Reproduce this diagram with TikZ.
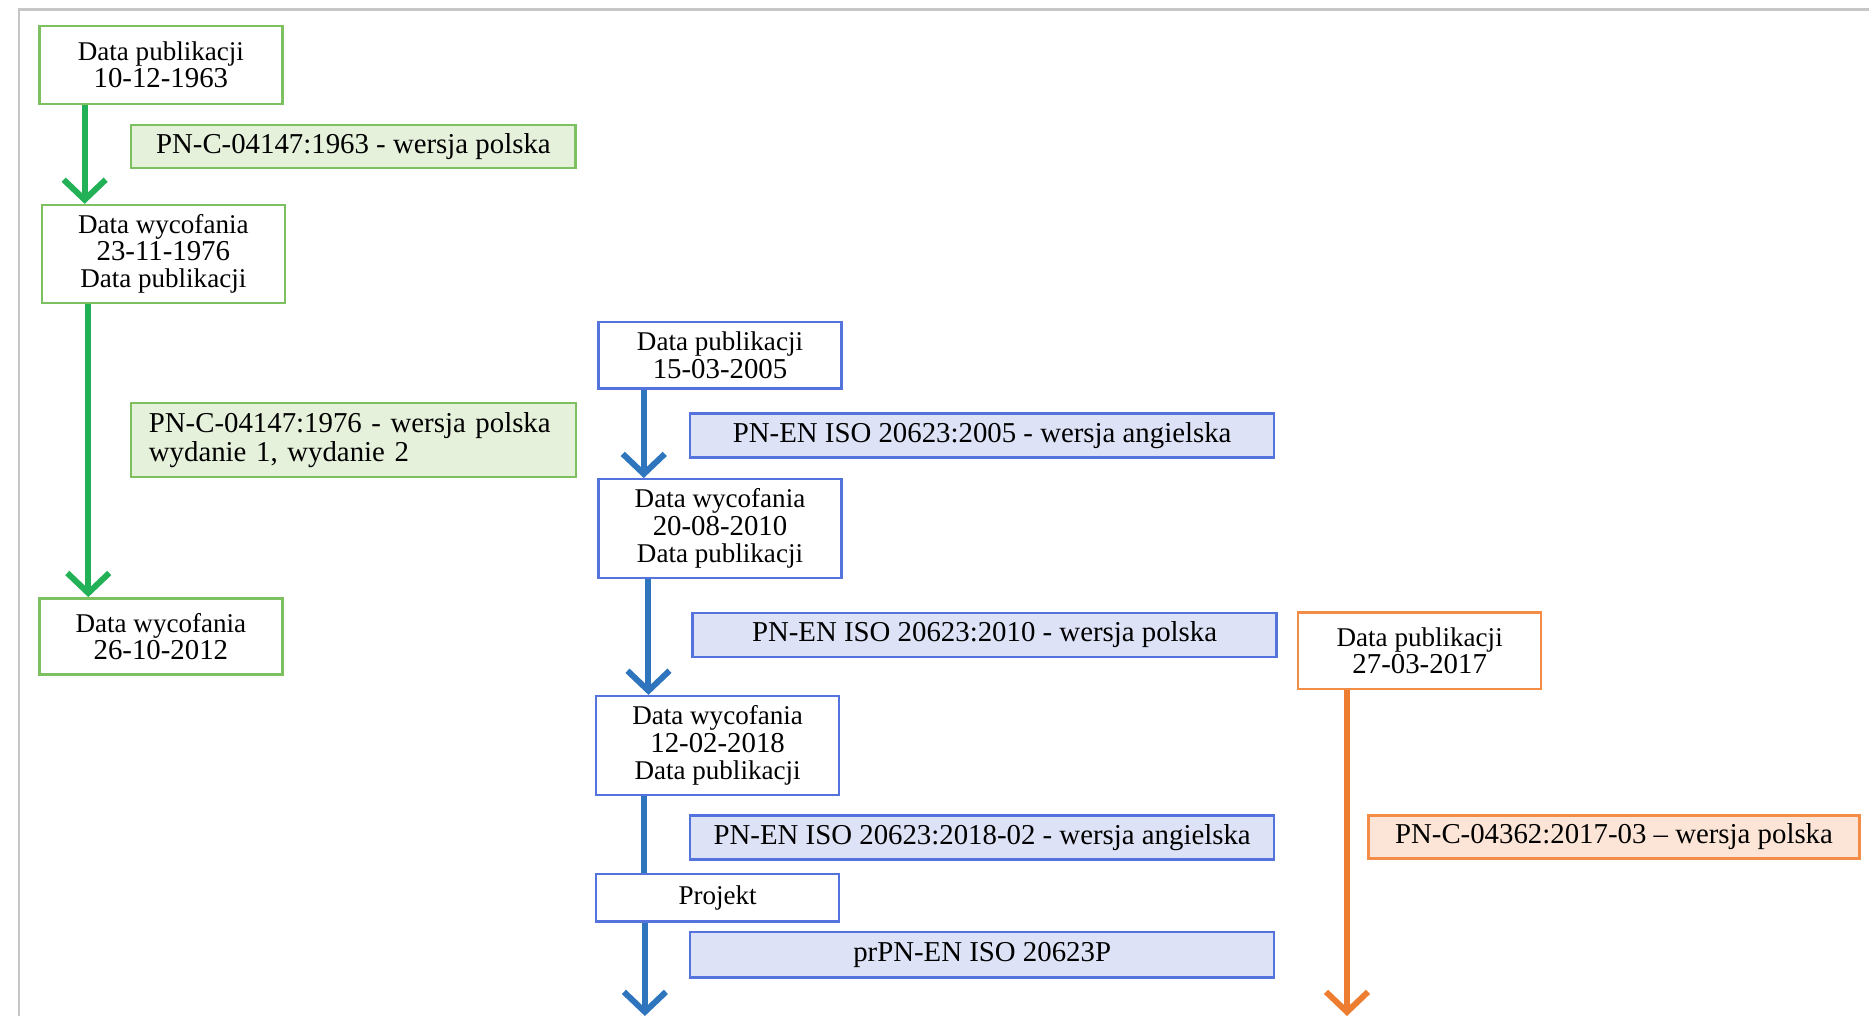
\documentclass[tikz,border=0pt]{standalone}
\usepackage{fontspec}
\setmainfont{Liberation Serif}
\usepackage{xcolor}
\usetikzlibrary{arrows.meta, calc}

\definecolor{grnline}{RGB}{125,192,95}
\definecolor{grnarrow}{RGB}{34,177,86}
\definecolor{grnfill}{RGB}{230,241,220}
\definecolor{bluline}{RGB}{85,115,220}
\definecolor{bluarrow}{RGB}{46,117,190}
\definecolor{blufill}{RGB}{221,226,246}
\definecolor{orgline}{RGB}{242,140,70}
\definecolor{orgarrow}{RGB}{237,125,49}
\definecolor{orgfill}{RGB}{252,229,214}

\newcommand{\hdrsize}{\fontsize{7.7}{7.8}\selectfont}
\newcommand{\datesize}{\fontsize{8.2}{7.8}\selectfont}
\newcommand{\labsize}{\fontsize{8.2}{8.2}\selectfont}

\begin{document}
\begin{tikzpicture}[
    datebox/.style={draw=#1, fill=white, line width=0.7pt, minimum width=2.43cm, align=center, inner sep=1pt, font=\datesize},
    labbox/.style 2 args={draw=#1, fill=#2, line width=0.7pt, minimum width=5.84cm, minimum height=0.44cm, inner sep=1pt, font=\labsize},
    tline/.style={draw=#1, line width=1.7pt},
    tarrow/.style={tline=#1, -{Straight Barb[length=0.2cm, width=0.42cm]}}
]
        \useasboundingbox (0,0) rectangle (18.69,-10.16);

        % Frame
        \draw[gray!45, line width=0.8pt] (18.69,-0.095) -- (0.19,-0.095) -- (0.19,-10.16);

        % Green line
        \node[datebox=grnline, minimum height=0.775cm] (g1) at (1.609,-0.650) {{\hdrsize Data publikacji}\\10-12-1963};
        \node[labbox={grnline}{grnfill}, minimum width=4.446cm, minimum height=0.43cm] (gl1) at (3.534,-1.466) {PN-C-04147:1963 - wersja polska};
        \node[datebox=grnline, minimum height=0.977cm] (g2) at (1.633,-2.539) {{\hdrsize Data wycofania}\\23-11-1976\\{\hdrsize Data publikacji}};
        \node[labbox={grnline}{grnfill}, minimum width=4.446cm, minimum height=0.739cm, text width=4.09cm, align=left, inner xsep=0.18cm] (gl2) at (3.534,-4.399) {PN-C-04147:1976 - wersja polska\\wydanie 1, wydanie 2};
        \node[datebox=grnline, minimum height=0.763cm] (g3) at (1.609,-6.365) {{\hdrsize Data wycofania}\\26-10-2012};

        \draw[tarrow=grnarrow] ($(g1.south west)+(0.465,0)$) -- ($(g1.south west |- g2.north)+(0.465,0)$);
        \draw[tarrow=grnarrow] ($(g2.south west)+(0.477,0)$) -- ($(g2.south west |- g3.north)+(0.477,0)$);

        % Blue line
        \node[datebox=bluline, minimum height=0.668cm] (b1) at (7.200,-3.552) {{\hdrsize Data publikacji}\\15-03-2005};
        \node[labbox={bluline}{blufill}] (bl1) at (9.822,-4.357) {PN-EN ISO 20623:2005 - wersja angielska};
        \node[datebox=bluline, minimum height=0.989cm] (b2) at (7.200,-5.287) {{\hdrsize Data wycofania}\\20-08-2010\\{\hdrsize Data publikacji}};
        \node[labbox={bluline}{blufill}] (bl2) at (9.846,-6.348) {PN-EN ISO 20623:2010 - wersja polska};
        \node[datebox=bluline, minimum height=0.99cm] (b3) at (7.176,-7.456) {{\hdrsize Data wycofania}\\12-02-2018\\{\hdrsize Data publikacji}};
        \node[labbox={bluline}{blufill}] (bl3) at (9.822,-8.374) {PN-EN ISO 20623:2018-02 - wersja angielska};
        \node[datebox=bluline, minimum height=0.477cm, font=\hdrsize] (b4) at (7.176,-8.976) {Projekt};
        \node[labbox={bluline}{blufill}, minimum height=0.453cm] (bl4) at (9.822,-9.548) {prPN-EN ISO 20623P};
        \coordinate (bluend) at (6.449,-10.16);

        \draw[tarrow=bluarrow] ($(b1.south west)+(0.465,0)$) -- ($(b1.south west |- b2.north)+(0.465,0)$);
        \draw[tarrow=bluarrow] ($(b2.south west)+(0.512,0)$) -- ($(b2.south west |- b3.north)+(0.512,0)$);
        \draw[tline=bluarrow] ($(b3.south west)+(0.489,0)$) -- ($(b3.south west |- b4.north)+(0.489,0)$);
        \draw[tarrow=bluarrow] (b4.south west -| bluend) -- (bluend);

        % Orange line
        \node[datebox=orgline, minimum height=0.763cm] (o1) at (14.197,-6.508) {{\hdrsize Data publikacji}\\27-03-2017};
        \node[labbox={orgline}{orgfill}, minimum width=4.911cm, minimum height=0.43cm] (ol1) at (16.14,-8.368) {PN-C-04362:2017-03 – wersja polska};
        \coordinate (orgend) at (13.470,-10.16);

        \draw[tarrow=orgarrow] (o1.south west -| orgend) -- (orgend);
\end{tikzpicture}
\end{document}
